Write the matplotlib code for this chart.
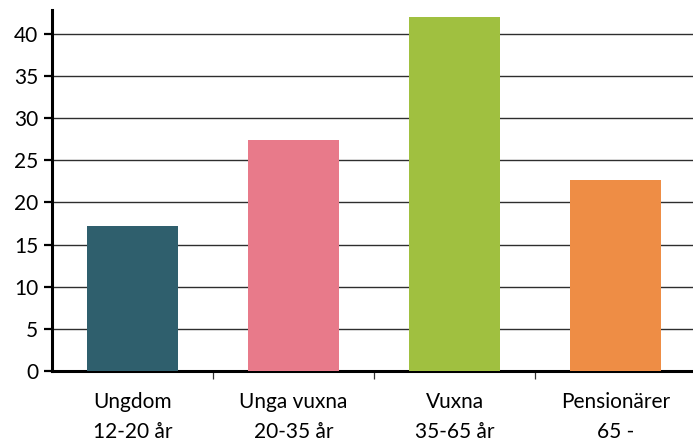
import numpy as np
import matplotlib.pyplot as plt

groups = ["Ungdom\n12-20 år", "Unga vuxna\n20-35 år", "Vuxna\n35-65 år", "Pensionärer\n65 -"]
values = [17.2, 27.4, 42.0, 22.6]
colors = ["#2f5f6d", "#e87a8a", "#a0c040", "#ee8d45"]
yticks = [0, 5, 10, 15, 20, 25, 30, 35, 40]

plt.rcParams['font.family'] = ['Lato', 'DejaVu Sans']

fig = plt.figure(figsize=(6.93, 4.42), dpi=100)
ax = fig.add_axes([0.075, 0.1606, 0.925, 0.8164])

x = np.arange(len(groups))
ax.bar(x, values, width=0.565, color=colors, zorder=3)

ax.set_xlim(-0.5, len(groups) - 0.52)
ax.set_ylim(0, 42.8)
ax.set_yticks(yticks)
ax.yaxis.grid(True, color='#2e2e2e', lw=1.0, zorder=0)
ax.set_axisbelow(True)

ax.set_xticks(x)
ax.set_xticklabels(groups, fontsize=15, linespacing=1.65)
ax.set_xticks(x[:-1] + 0.5, minor=True)
ax.tick_params(axis='x', which='major', length=0, pad=15)
ax.tick_params(axis='x', which='minor', length=6, width=0.9, color='#333333', direction='out')
ax.tick_params(axis='y', length=6, width=1.6, labelsize=15, pad=4)

for side in ['top', 'right']:
    ax.spines[side].set_visible(False)
ax.spines['left'].set_linewidth(2.2)
ax.spines['bottom'].set_linewidth(2.2)

fig.savefig("out.png", dpi=100)
